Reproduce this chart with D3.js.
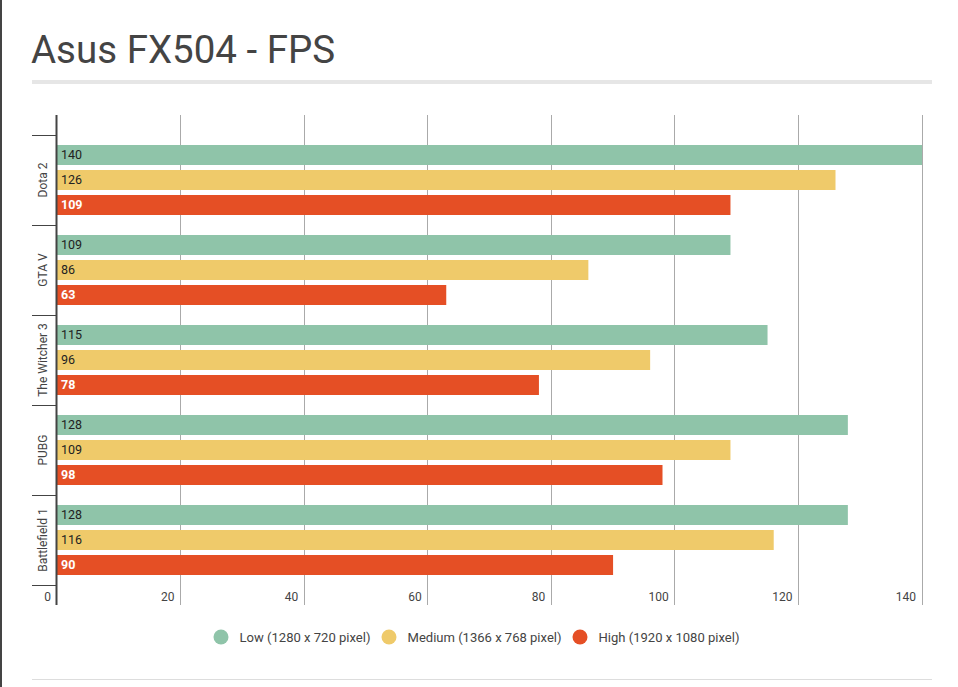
<!DOCTYPE html>
<html><head><meta charset="utf-8">
<script src="https://cdn.jsdelivr.net/npm/d3@7"></script>
<style>
html,body{margin:0;padding:0;background:#fff;}
svg{display:block;font-family:Roboto,"Noto Sans",sans-serif;}
</style></head>
<body><svg id="c" width="958" height="687"></svg>
<script>
const title = "Asus FX504 - FPS";
const categories = ["Dota 2","GTA V","The Witcher 3","PUBG","Battlefield 1"];
const seriesNames = ["Low (1280 x 720 pixel)","Medium (1366 x 768 pixel)","High (1920 x 1080 pixel)"];
const seriesColors = ["#8fc4a9","#efca6a","#e54f25"];
const lowValues = [140,109,115,128,128];
const mediumValues = [126,86,96,109,116];
const highValues = [109,63,78,98,90];
const xTicks = [0,20,40,60,80,100,120,140];

const series = [lowValues, mediumValues, highValues];
const svg = d3.select("#c");

// left border
svg.append("rect").attr("x",0).attr("y",0).attr("width",2).attr("height",687).attr("fill","#444");

// title
svg.append("text").attr("x",31).attr("y",63).attr("font-size",38.5).attr("fill","#444").text(title);
svg.append("rect").attr("x",32).attr("y",80).attr("width",900).attr("height",4).attr("fill","#e6e6e6");

const plotTop = 115, plotBottom = 605;
const x = d3.scaleLinear().domain([0,140]).range([57,922]);
const y = d3.scaleBand().domain(categories).range([135,585]).paddingInner(0).paddingOuter(0);
const ys = d3.scaleBand().domain(d3.range(3)).range([10,80]).paddingInner(0.2).paddingOuter(0);

// gridlines
svg.append("g").selectAll("line").data(xTicks.filter(d=>d>0)).join("line")
  .attr("x1",d=>x(d)).attr("x2",d=>x(d)).attr("y1",plotTop).attr("y2",plotBottom)
  .attr("stroke","#aaa").attr("stroke-width",1).attr("shape-rendering","crispEdges");

// bars
const groups = svg.append("g").selectAll("g").data(categories).join("g")
  .attr("transform",c=>`translate(0,${y(c)})`);
groups.each(function(c,i){
  const g = d3.select(this);
  series.forEach((vals,s)=>{
    g.append("rect").attr("x",x(0)).attr("y",ys(s)).attr("width",x(vals[i])-x(0)).attr("height",ys.bandwidth())
      .attr("fill",seriesColors[s]);
    g.append("text").attr("x",x(0)+4).attr("y",ys(s)+ys.bandwidth()/2).attr("dy","0.35em")
      .attr("font-size",12.5).attr("fill",s===2?"#fff":"#222").attr("font-weight",s===2?"bold":"normal")
      .text(vals[i]);
  });
});

// axis line
svg.append("line").attr("x1",56.5).attr("x2",56.5).attr("y1",plotTop).attr("y2",plotBottom)
  .attr("stroke","#444").attr("stroke-width",2);

// category ticks
const bounds = categories.map(c=>y(c)).concat([y(categories[categories.length-1])+y.bandwidth()]);
svg.append("g").selectAll("line").data(bounds).join("line")
  .attr("x1",32).attr("x2",56).attr("y1",d=>d+0.5).attr("y2",d=>d+0.5)
  .attr("stroke","#444").attr("stroke-width",1);

// category labels
svg.append("g").selectAll("text").data(categories).join("text")
  .attr("transform",c=>`translate(47,${y(c)+y.bandwidth()/2}) rotate(-90)`)
  .attr("text-anchor","middle").attr("font-size",12).attr("fill","#444").text(c=>c);

// x tick labels
svg.append("g").selectAll("text").data(xTicks).join("text")
  .attr("x",d=>x(d)-6).attr("y",597).attr("dy","0.35em").attr("text-anchor","end")
  .attr("font-size",12).attr("fill","#444").text(d=>d);

// legend
const legendX = [221,389,580];
const legendW = [131,154,141];
const lg = svg.append("g").selectAll("g").data(seriesNames).join("g")
  .attr("transform",(d,i)=>`translate(${legendX[i]},637)`);
lg.append("circle").attr("r",7.5).attr("fill",(d,i)=>seriesColors[i]);
lg.append("text").attr("x",18.5).attr("dy","0.35em").attr("font-size",13.5).attr("fill","#444")
  .attr("textLength",(d,i)=>legendW[i]).attr("lengthAdjust","spacingAndGlyphs").text(d=>d);

// bottom line
svg.append("rect").attr("x",32).attr("y",679).attr("width",900).attr("height",1).attr("fill","#ddd");
</script></body></html>
